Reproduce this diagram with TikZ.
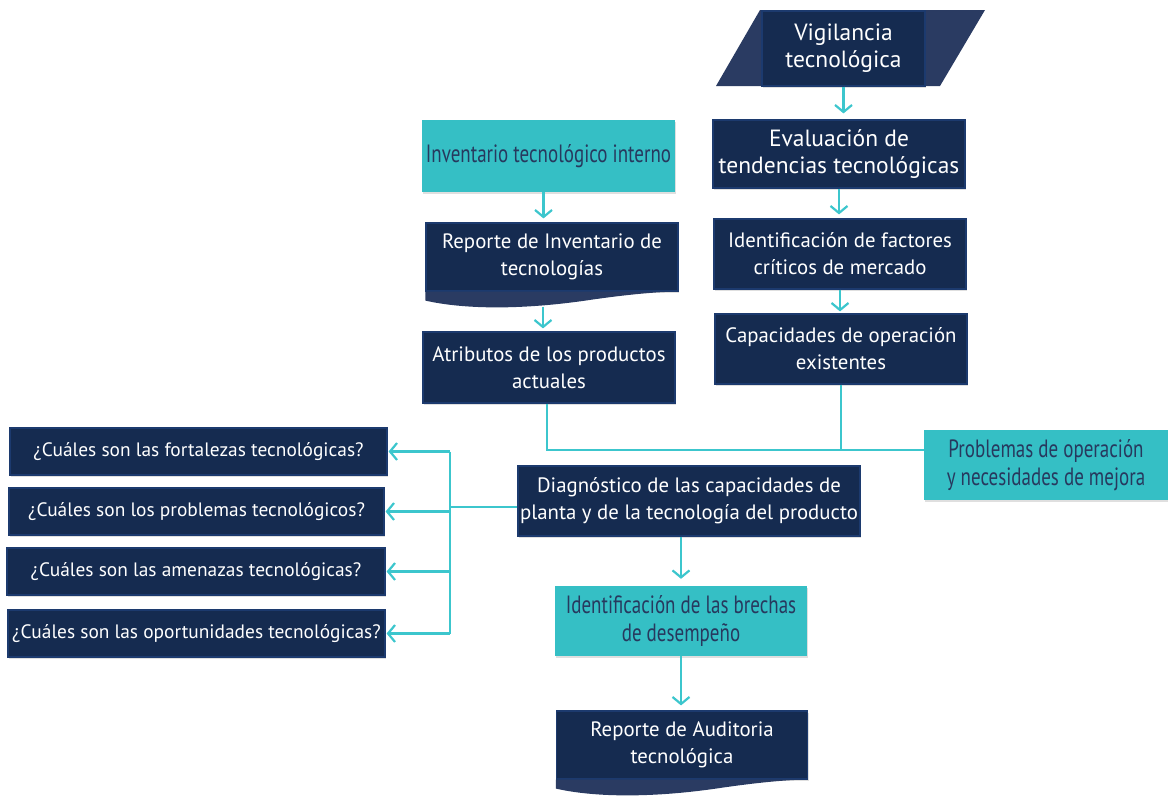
\documentclass[tikz,border=0pt]{standalone}
\usepackage{fontspec}
\setmainfont{PT Sans}
\newfontfamily\condfont[FakeStretch=0.76]{PT Sans}
\usetikzlibrary{arrows.meta,calc,shadows}

\definecolor{navy}{HTML}{152B50}
\definecolor{navyedge}{HTML}{1C3A6E}
\definecolor{wavecol}{HTML}{2A3B62}
\definecolor{tealbox}{HTML}{35BFC5}
\definecolor{tealtext}{HTML}{27395E}
\definecolor{linkc}{HTML}{3CC6CD}

\tikzset{
  boxshadow/.style={drop shadow={opacity=0.25, shadow xshift=1pt, shadow yshift=-2pt}},
  darkbox/.style={draw=navyedge, line width=1.2pt, fill=navy, text=white,
    align=center, inner sep=0pt, boxshadow,
    font=\fontsize{20.8}{27}\selectfont},
  bigbox/.style={darkbox, font=\fontsize{23.5}{27}\selectfont},
  qbox/.style={darkbox, font=\fontsize{19.4}{24}\selectfont},
  cyanbox/.style={fill=tealbox, text=tealtext, align=center, inner sep=0pt,
    boxshadow, font=\condfont\fontsize{25}{28}\selectfont},
  link/.style={draw=linkc, line width=2.6pt},
  arr/.style={link, -{Straight Barb[length=7pt,width=17pt,line width=2.2pt]}},
}

% wavy lower edge of a document box
\newcommand\docwave[1]{%
  \fill[wavecol] (#1.south west)
    -- ($(#1.south west)+(0,9)$)
    .. controls ($(#1.south west)+(35,17)$) and ($(#1.south west)+(90,19)$)
    .. ($(#1.south west)+(160,9)$)
    .. controls ($(#1.south west)+(200,3)$) and ($(#1.south east)+(-20,0)$)
    .. ($(#1.south east)+(0,0)$) -- cycle;}

\begin{document}
\begin{tikzpicture}[x=1pt,y=-1pt]
\useasboundingbox (0,0) rectangle (1168,796);

% ---- right column
\fill[wavecol] (760,10) -- (985,10) -- (940,86) -- (716,86) -- cycle;
\node[bigbox, minimum width=163pt, minimum height=75pt, drop shadow={opacity=0}] (vig) at (843.5,48.5) {Vigilancia\\tecnológica};
\node[bigbox, minimum width=252pt, minimum height=68pt] (eval) at (839,154) {Evaluación de\\tendencias tecnológicas};
\node[darkbox, minimum width=252pt, minimum height=70pt] (fact) at (840,254) {Identificación de factores\\críticos de mercado};
\node[darkbox, minimum width=252pt, minimum height=70pt] (cap) at (841,349) {Capacidades de operación\\existentes};

% ---- middle column
\node[cyanbox, minimum width=253pt, minimum height=72pt] (inv) at (548.5,156) {Inventario tecnológico interno};
\node[darkbox, minimum width=252pt, minimum height=68pt] (rep) at (552,257) {Reporte de Inventario de\\tecnologías};
\docwave{rep}
\node[darkbox, minimum width=252pt, minimum height=71pt] (atr) at (549,367.5) {Atributos de los productos\\actuales};

\node[cyanbox, minimum width=244pt, minimum height=70pt] (prob) at (1046,465) {Problemas de operación\\y necesidades de mejora};

\node[darkbox, minimum width=342pt, minimum height=70pt] (diag) at (689,501) {Diagnóstico de las capacidades de\\planta y de la tecnología del producto};
\node[cyanbox, minimum width=252pt, minimum height=70pt] (gap) at (681,621) {Identificación de las brechas\\de desempeño};
\node[darkbox, minimum width=251pt, minimum height=68pt] (aud) at (682,745) {Reporte de Auditoria\\tecnológica};
\docwave{aud}

% ---- questions
\node[qbox, minimum width=377pt, minimum height=47pt] (q1) at (198.5,451.5) {¿Cuáles son las fortalezas tecnológicas?};
\node[qbox, minimum width=375pt, minimum height=47pt] (q2) at (196.5,511.5) {¿Cuáles son los problemas tecnológicos?};
\node[qbox, minimum width=378pt, minimum height=47pt] (q3) at (196,571.5) {¿Cuáles son las amenazas tecnológicas?};
\node[qbox, minimum width=377pt, minimum height=47pt] (q4) at (196.5,633.5) {¿Cuáles son las oportunidades tecnológicas?};

% ---- connectors
\draw[arr, shorten >=6pt] (vig.south) -- (vig.south |- eval.north);
\draw[arr, shorten >=4pt] (eval.south) -- (eval.south |- fact.north);
\draw[arr, shorten >=2pt] (fact.south) -- (fact.south |- cap.north);
\coordinate (invout) at ($(inv.south)+(-5,0)$);
\draw[arr, shorten >=4pt] (invout) -- (invout |- rep.north);
\coordinate (repout) at ($(rep.south)+(-9,15)$);
\draw[arr, shorten >=3pt] (repout) -- (repout |- atr.north);

\coordinate (junc) at ($(prob.west)+(0,-15)$);
\draw[link] ($(atr.south)+(-2,0)$) |- (junc);
\draw[link] (cap.south) -- (cap.south |- junc);

\coordinate (busx) at (450,0);
\coordinate (dj) at ($(diag.west)+(0,6)$);
\draw[link] (dj) -- (dj -| busx);
\draw[link] (q1.east -| busx) -- (q4.east -| busx);
\foreach \q in {q1,q2,q3,q4}
  \draw[arr, shorten >=1pt] (\q.east -| busx) -- (\q.east);

\draw[arr, shorten >=7pt] (diag.south -| gap.north) -- (gap.north);
\draw[arr, shorten >=5pt] (gap.south) -- (gap.south |- aud.north);
\end{tikzpicture}
\end{document}
